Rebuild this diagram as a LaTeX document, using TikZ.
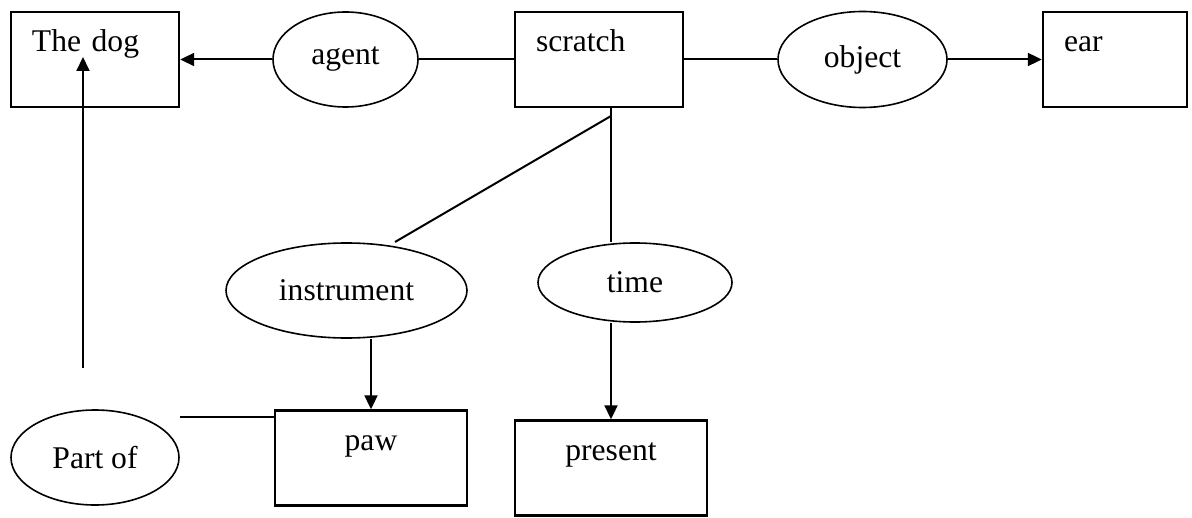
\documentclass[tikz,border=0pt]{standalone}
\usepackage{fontspec}
\setmainfont{Liberation Serif}
\usetikzlibrary{arrows.meta,positioning,shapes.geometric}

\begin{document}
\begin{tikzpicture}[
    x=0.5pt, y=-0.5pt,
    box/.style={draw, line width=1.2pt, inner xsep=0pt, inner ysep=0pt, minimum height=47.5pt, text height=20pt, text depth=27.5pt},
    lbox/.style={box, align=left, inner xsep=10.5pt, text width=#1},
    oval/.style 2 args={draw, ellipse, line width=0.8pt, inner sep=0pt, minimum width=#1, minimum height=#2},
    line width=1pt, >={Triangle[length=7pt,width=6.5pt]},
    font=\fontsize{15.8}{19}\selectfont
]
\useasboundingbox (0,0) rectangle (1192,518);

% Nodes
\node[lbox=63pt] (dog) at (95,59.5) {The dog};
\node[oval={72.5pt}{47.5pt}, right=46pt of dog] (agent) {agent};
\node[lbox=63pt, right=47.5pt of agent] (scratch) {scratch};
\node[oval={84.5pt}{48pt}, right=46.5pt of scratch] (object) {object};
\node[lbox=51pt, right=47pt of object] (ear) {ear};
\node[oval={120.5pt}{47.5pt}] (instrument) at (346.5,290.5) {instrument};
\node[oval={97pt}{39.5pt}] (time) at (635,282.5) {time};
\node[box, minimum width=96pt] (paw) at (371,458) {paw};
\node[box, minimum width=96pt] (present) at (611,468) {present};
\node[oval={84pt}{47.5pt}] (partof) at (95,457.5) {Part of};

% Free ends
\coordinate (fork) at (611,116);
\coordinate (instop) at (395,242);
\coordinate (pawtop) at (275,417);
\coordinate (partup) at (83,368);
\coordinate (dogin) at (83,57);

% Connectors
\draw[->] (agent) -- (dog);
\draw (agent) -- (scratch);
\draw (scratch) -- (object);
\draw[->] (object) -- (ear);
\draw (scratch.south -| fork) -- (time.north -| fork);
\draw (fork) -- (instop);
\draw[->] (instrument.south -| paw.north) -- (paw.north);
\draw[->] (time.south -| present.north) -- (present.north);
\draw (partof.east |- pawtop) -- (pawtop);
\draw[->] (partup) -- (dogin);

\end{tikzpicture}
\end{document}
